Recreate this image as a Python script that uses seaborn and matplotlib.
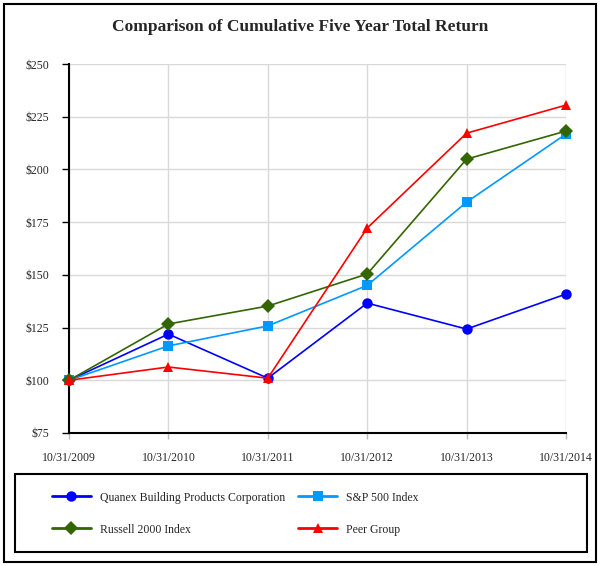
import numpy as np
import pandas as pd
import matplotlib.pyplot as plt
import seaborn as sns
from matplotlib.patches import Rectangle

dates = ['10/31/2009', '10/31/2010', '10/31/2011', '10/31/2012', '10/31/2013', '10/31/2014']
quanex = [100, 121.9, 101.0, 136.6, 124.3, 140.9]
sp500 = [100, 116.3, 125.8, 145.0, 184.5, 216.8]
russell = [100, 126.7, 135.2, 150.4, 204.9, 218.2]
peer = [100, 106.3, 101.0, 172.2, 217.2, 230.5]

names = ['Quanex Building Products Corporation', 'S&P 500 Index', 'Russell 2000 Index', 'Peer Group']
colors = ['#0000FF', '#0099FF', '#336600', '#FF0000']
marks = ['o', 's', 'D', '^']

df = pd.DataFrame({
    'x': list(range(len(dates))) * 4,
    'value': quanex + sp500 + russell + peer,
    'series': np.repeat(names, len(dates)),
})

sns.set_style('white')
plt.rcParams['font.family'] = ['Liberation Serif', 'DejaVu Serif']

fig = plt.figure(figsize=(6, 5.66), dpi=100)
ax = fig.add_axes([69/600, 1-433/566, (566-69)/600, (433-64)/566])

sns.lineplot(data=df, x='x', y='value', hue='series', style='series',
             palette=dict(zip(names, colors)), markers=dict(zip(names, marks)),
             dashes=False, markersize=7.5, linewidth=1.2, markeredgewidth=0,
             ax=ax, legend=False, clip_on=False, zorder=3)

ax.set_xlim(0, 5)
ax.set_ylim(75, 250)
ax.set_yticks(range(75, 251, 25))
ax.set_yticklabels(['$%d' % v for v in range(75, 251, 25)], fontsize=8.5)
ax.set_xticks(range(len(dates)))
ax.set_xticklabels(dates, fontsize=8.5)
ax.set_xlabel('')
ax.set_ylabel('')
ax.grid(True, color='#d9d9d9', linewidth=1)
ax.tick_params(axis='y', direction='out', length=5, width=1, color='black', pad=9.5, left=True)
ax.tick_params(axis='x', direction='out', length=4, width=1, color='#bbbbbb', pad=9.5, bottom=True)
for s in ['top', 'right']:
    ax.spines[s].set_visible(False)
for s in ['left', 'bottom']:
    ax.spines[s].set_color('black')
    ax.spines[s].set_linewidth(1.5)

fig.text(0.5, 1-27/566, 'Comparison of Cumulative Five Year Total Return',
         ha='center', va='center', fontsize=12.5, fontweight='bold')

handles = [plt.Line2D([], [], color=c, marker=m, lw=2, markersize=7.5, markeredgewidth=0)
           for c, m in zip(colors, marks)]
order = [0, 2, 1, 3]
fig.legend([handles[i] for i in order], [names[i] for i in order], ncol=2,
           loc='upper left', bbox_to_anchor=(41/600, 1-481/566), frameon=False,
           fontsize=8.5, handlelength=3.3, handletextpad=0.76, columnspacing=1.15,
           labelspacing=1.69)

fig.patches.append(Rectangle((15/600, 1-552/566), 572/600, 78/566, transform=fig.transFigure,
                             fill=False, edgecolor='black', linewidth=1.5))
fig.patches.append(Rectangle((4/600, 1-562/566), 592/600, 558/566, transform=fig.transFigure,
                             fill=False, edgecolor='black', linewidth=1.5))

plt.savefig('out.png', dpi=100)
